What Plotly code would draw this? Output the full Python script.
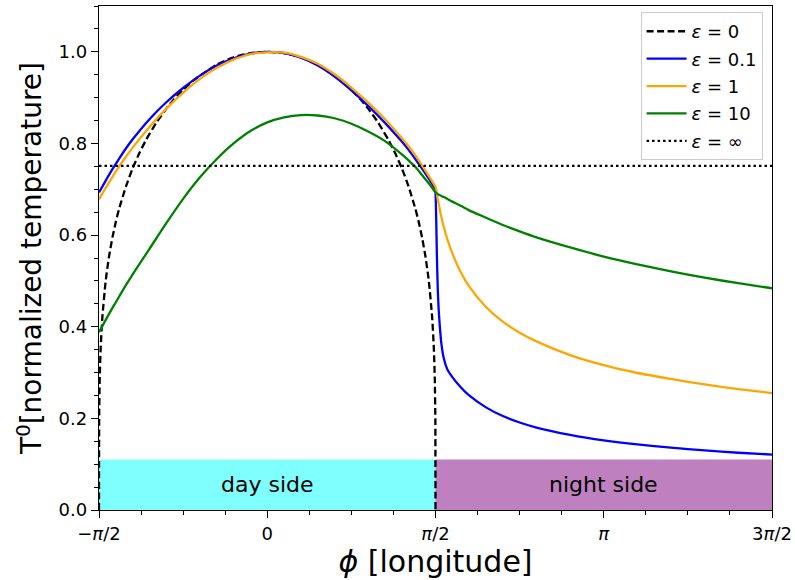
import plotly.graph_objects as go

# longitude in units of pi
phi_day = [-0.5, -0.48, -0.46, -0.44, -0.42, -0.40, -0.35, -0.30, -0.25, -0.20, -0.15, -0.10, -0.05, 0.0,
           0.05, 0.10, 0.15, 0.20, 0.25, 0.30, 0.35, 0.40, 0.42, 0.44, 0.46, 0.48, 0.5]
phi_night = [0.5, 0.502, 0.504, 0.506, 0.508, 0.51, 0.514, 0.518, 0.525, 0.535, 0.55, 0.575, 0.6, 0.65,
             0.7, 0.75, 0.8, 0.9, 1.0, 1.1, 1.2, 1.3, 1.4, 1.5]

T_eps01_day = [0.693, 0.719, 0.744, 0.767, 0.789, 0.809, 0.853, 0.890, 0.921, 0.948, 0.970, 0.986, 0.996, 1.000,
               0.997, 0.987, 0.970, 0.946, 0.916, 0.882, 0.845, 0.804, 0.786, 0.766, 0.745, 0.723, 0.700]
T_eps01_night = [0.700, 0.640, 0.560, 0.500, 0.460, 0.430, 0.390, 0.360, 0.330, 0.307, 0.290, 0.268, 0.250, 0.224,
                 0.205, 0.191, 0.180, 0.164, 0.152, 0.143, 0.136, 0.130, 0.125, 0.121]

T_eps1_day = [0.678, 0.703, 0.727, 0.750, 0.771, 0.791, 0.836, 0.876, 0.911, 0.941, 0.965, 0.983, 0.995, 0.999,
              0.998, 0.989, 0.974, 0.951, 0.922, 0.889, 0.853, 0.812, 0.794, 0.774, 0.752, 0.729, 0.706]
T_eps1_night = [0.706, 0.699, 0.690, 0.682, 0.674, 0.667, 0.651, 0.638, 0.617, 0.591, 0.560, 0.519, 0.488, 0.443,
                0.411, 0.387, 0.368, 0.338, 0.316, 0.299, 0.286, 0.274, 0.264, 0.255]

T_eps10_day = [0.388, 0.415, 0.441, 0.466, 0.491, 0.514, 0.570, 0.626, 0.679, 0.726, 0.766, 0.800, 0.827, 0.846,
               0.857, 0.862, 0.861, 0.855, 0.843, 0.826, 0.805, 0.776, 0.763, 0.749, 0.731, 0.713, 0.693]
T_eps10_night = [0.693, 0.692, 0.691, 0.690, 0.689, 0.688, 0.687, 0.685, 0.683, 0.679, 0.673, 0.664, 0.654, 0.638,
                 0.622, 0.608, 0.595, 0.573, 0.553, 0.536, 0.521, 0.507, 0.495, 0.484]

phi_eps0 = [-0.5, -0.4995, -0.498, -0.495, -0.49, -0.48, -0.47, -0.46, -0.45, -0.44, -0.42, -0.40, -0.38, -0.36,
            -0.33, -0.30, -0.28, -0.25, -0.22, -0.20, -0.15, -0.10, -0.05, 0.0, 0.05, 0.10, 0.15, 0.20, 0.22, 0.25,
            0.28, 0.30, 0.33, 0.36, 0.38, 0.40, 0.42, 0.44, 0.45, 0.46, 0.47, 0.48, 0.49, 0.495, 0.498, 0.4995, 0.5]
T_eps0 = [0.0, 0.199, 0.282, 0.354, 0.421, 0.501, 0.554, 0.595, 0.629, 0.658, 0.706, 0.746, 0.779, 0.808,
          0.845, 0.876, 0.894, 0.917, 0.937, 0.948, 0.972, 0.988, 0.997, 1.0, 0.997, 0.988, 0.972, 0.948, 0.937, 0.917,
          0.894, 0.876, 0.845, 0.808, 0.779, 0.746, 0.706, 0.658, 0.629, 0.595, 0.554, 0.501, 0.421, 0.354, 0.282,
          0.199, 0.0]

phi_inf = [-0.5, 1.5]
T_inf = [0.751, 0.751]

tick_vals = [-0.5, 0.0, 0.5, 1.0, 1.5]
tick_text = ["\u2212<i>π</i>/2", "0", "<i>π</i>/2", "<i>π</i>", "3<i>π</i>/2"]

day_band = [-0.5, 0.5]
night_band = [0.5, 1.5]
band_top = 0.11

FONT = "DejaVu Sans"
LW = 2.3
fig = go.Figure()

fig.add_shape(type="rect", x0=day_band[0], x1=day_band[1], y0=0, y1=band_top,
              fillcolor="#80ffff", line=dict(width=0), layer="below")
fig.add_shape(type="rect", x0=night_band[0], x1=night_band[1], y0=0, y1=band_top,
              fillcolor="#bf80bf", line=dict(width=0), layer="below")

fig.add_trace(go.Scatter(x=phi_eps0, y=T_eps0, mode="lines", name="<i>ε</i> = 0", legendgroup="g0",
                         line=dict(color="black", width=LW, dash="7px,3.5px", shape="spline", smoothing=0.5)))

series = [
    ("<i>ε</i> = 0.1", "#0000ff", T_eps01_day, T_eps01_night, "g1"),
    ("<i>ε</i> = 1", "#ffa500", T_eps1_day, T_eps1_night, "g2"),
    ("<i>ε</i> = 10", "#008000", T_eps10_day, T_eps10_night, "g3"),
]
for name, color, tday, tnight, grp in series:
    fig.add_trace(go.Scatter(x=phi_day, y=tday, mode="lines", name=name, legendgroup=grp,
                             line=dict(color=color, width=LW, shape="spline", smoothing=0.8)))
    fig.add_trace(go.Scatter(x=phi_night, y=tnight, mode="lines", name=name, legendgroup=grp,
                             showlegend=False,
                             line=dict(color=color, width=LW, shape="spline", smoothing=0.6)))

fig.add_trace(go.Scatter(x=phi_inf, y=T_inf, mode="lines", name="<i>ε</i> = ∞", legendgroup="g4",
                         line=dict(color="black", width=LW, dash="2.5px,3px")))

fig.add_annotation(x=0.0, y=0.055, text="day side", showarrow=False,
                   font=dict(family=FONT, size=22, color="black"))
fig.add_annotation(x=1.0, y=0.055, text="night side", showarrow=False,
                   font=dict(family=FONT, size=22, color="black"))

axis_common = dict(showline=True, mirror=True, linecolor="black", linewidth=1.3,
                   ticks="outside", ticklen=7, tickwidth=1.3, tickcolor="black",
                   showgrid=False, zeroline=False, automargin=False,
                   ticklabeloverflow="allow",
                   tickfont=dict(family=FONT, size=18, color="black"))

fig.update_xaxes(range=[-0.5, 1.5], tickvals=tick_vals, ticktext=tick_text,
                 minor=dict(ticks="outside", ticklen=4, tickwidth=1, tickcolor="black",
                            tick0=-0.5, dtick=0.125, showgrid=False),
                 title=dict(text="<i>ϕ</i> [longitude]", font=dict(family=FONT, size=30, color="black"),
                            standoff=6),
                 **axis_common)
fig.update_yaxes(range=[0, 1.1], tickvals=[0, 0.2, 0.4, 0.6, 0.8, 1.0], tickformat=".1f",
                 minor=dict(ticks="outside", ticklen=4, tickwidth=1, tickcolor="black",
                            tick0=0, dtick=0.05, showgrid=False),
                 title=dict(text="T<sup>0</sup>[normalized temperature]",
                            font=dict(family=FONT, size=28, color="black"), standoff=8),
                 **axis_common)

fig.update_layout(
    width=795, height=580,
    margin=dict(l=98.5, r=22.5, t=6, b=70),
    paper_bgcolor="white", plot_bgcolor="white",
    font=dict(family=FONT, color="black"),
    legend=dict(x=0.986, y=0.988, xanchor="right", yanchor="top",
                bgcolor="white", bordercolor="#cccccc", borderwidth=1,
                tracegroupgap=1, itemwidth=40,
                font=dict(family=FONT, size=18, color="black")),
)

fig.write_html("out.html", config={"displayModeBar": False},
               post_script="document.body.style.margin='0px';")
